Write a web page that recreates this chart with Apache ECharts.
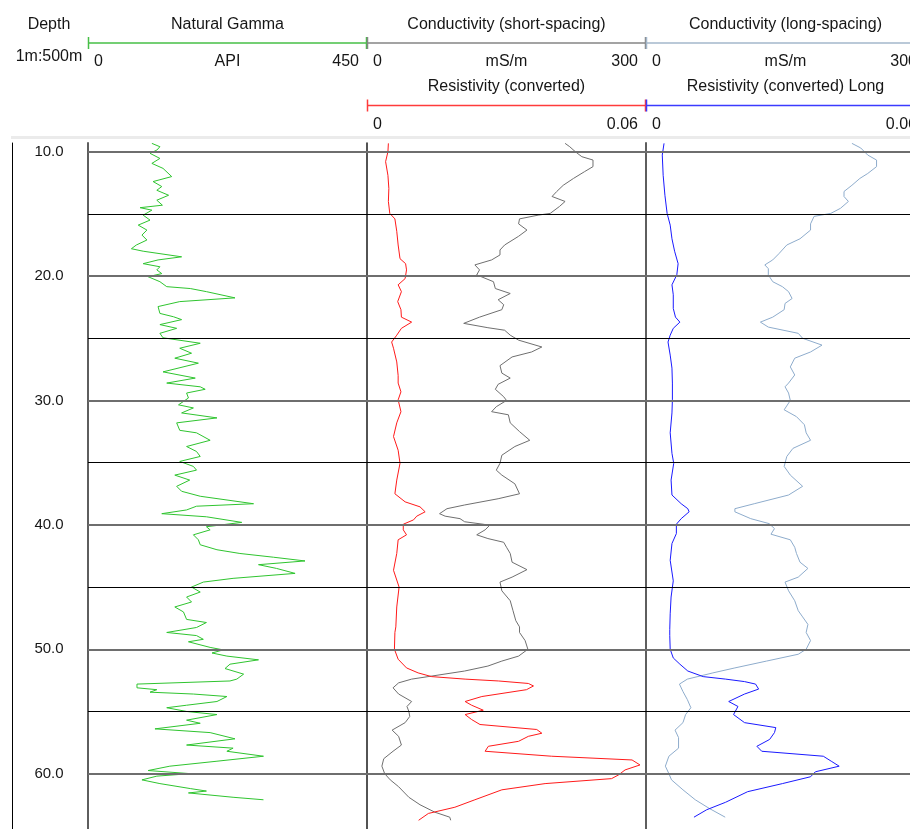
<!DOCTYPE html>
<html>
<head>
<meta charset="utf-8">
<title>Well log</title>
<script src="https://cdn.jsdelivr.net/npm/echarts@6/dist/echarts.min.js"></script>
<style>
  html, body { margin: 0; padding: 0; background: #ffffff; }
  #chart { width: 910px; height: 829px; }
</style>
</head>
<body>
<div id="chart"></div>
<script>
// ---- depth axis ----
const depthRange = [9.3, 64.45];
const depthGridlines = [10, 15, 20, 25, 30, 35, 40, 45, 50, 55, 60];
const depthLabels = [10, 20, 30, 40, 50, 60];

// ---- scales (min, max) ----
const gammaScale = [0, 450];
const condScale = [0, 300];
const resScale = [0, 0.06];

// ---- log curves: [depth (m), value] ----
const gammaLog = [
  [9.33,103],[9.6,116],[9.87,111],[10.13,100],[10.54,116],[10.94,103],[11.34,121],[12.0,135],[12.4,105],[12.8,119],
  [13.1,111],[13.5,130],[13.9,111],[14.3,120],[14.5,84],[14.7,103],[15.1,89],[15.5,100],[15.9,81],[16.3,95],
  [16.7,87],[17.1,95],[17.5,78],[17.8,70],[18.0,89],[18.45,151],[18.7,113],[19.0,89],[19.25,116],[19.5,111],
  [19.8,119],[20.05,97],[20.45,116],[20.85,127],[21.0,165],[21.25,191],[21.75,237],[22.05,148],[22.45,113],[23.0,116],
  [23.27,138],[23.5,151],[23.9,116],[24.2,143],[24.6,116],[24.96,121],[25.4,181],[25.8,148],[26.2,167],[26.6,140],
  [27.0,178],[27.7,121],[28.2,173],[28.6,127],[28.9,181],[29.1,189],[29.4,159],[29.8,162],[30.35,146],[30.6,170],
  [31.0,151],[31.4,208],[31.8,143],[32.4,148],[32.6,175],[33.2,197],[33.7,159],[34.1,175],[34.5,181],[34.9,148],
  [35.3,170],[35.6,175],[36.0,140],[36.4,164],[36.9,143],[37.3,151],[37.7,181],[38.3,267],[38.5,175],[38.8,159],
  [39.1,119],[39.35,191],[39.8,248],[40.15,191],[40.4,197],[40.8,170],[41.2,178],[41.6,181],[42.0,208],[42.3,245],
  [42.6,299],[42.9,350],[43.2,275],[43.5,304],[43.9,334],[44.3,234],[44.6,186],[45.0,167],[45.4,181],[45.8,159],
  [46.2,167],[46.6,140],[47.0,154],[47.6,159],[47.85,191],[48.25,175],[48.65,127],[48.9,175],[49.2,186],[49.4,162],
  [49.85,197],[50.05,218],[50.3,200],[50.55,224],[50.85,275],[51.2,229],[51.55,221],[52.0,251],[52.4,240],[52.55,229],
  [52.8,79],[53.1,79],[53.25,111],[53.45,100],[53.6,170],[53.8,224],[54.2,208],[54.5,159],[54.7,127],[55.0,159],
  [55.25,208],[55.7,159],[55.95,181],[56.4,108],[56.7,197],[57.2,237],[57.7,159],[57.95,234],[58.2,224],[58.6,283],
  [59.0,208],[59.4,132],[59.75,97],[60.0,165],[60.2,111],[60.5,87],[60.8,116],[61.2,165],[61.4,191],[61.55,162],
  [61.9,234],[62.1,283]
];

const condShortLog = [
  [9.33,213],[9.6,218],[10.0,224],[10.4,231],[10.67,243],[11.2,243],[11.6,234],[12.15,222],[12.7,211],[13.2,204],
  [13.6,199],[14.0,213],[14.4,207],[14.96,197],[15.1,184],[15.4,164],[15.8,163],[16.3,172],[16.8,163],[17.5,148],
  [17.9,143],[18.3,143],[18.7,134],[19.1,116],[19.5,121],[19.9,118],[20.45,136],[21.0,138],[21.4,154],[21.9,141],
  [22.3,147],[22.7,145],[23.3,121],[23.8,104],[24.15,130],[24.35,148],[24.75,154],[25.15,163],[25.7,188],[26.1,177],
  [26.5,156],[27.2,143],[27.8,145],[28.2,154],[28.7,141],[29.1,138],[29.7,147],[30.0,150],[30.5,139],[30.9,134],
  [31.15,152],[31.8,154],[32.5,164],[33.2,175],[33.7,159],[34.4,145],[35.05,143],[35.6,139],[36.0,145],[36.7,159],
  [37.5,164],[37.9,141],[38.4,105],[38.7,86],[39.1,78],[39.3,84],[39.5,100],[39.75,105],[39.95,125],[40.03,132],
  [40.4,127],[40.8,118],[41.1,130],[41.4,147],[41.8,150],[42.3,154],[43.0,156],[43.6,172],[44.2,156],[44.6,143],
  [45.3,145],[46.1,154],[46.9,157],[47.7,160],[48.2,164],[48.65,164],[49.3,170],[50.0,173],[50.55,163],[50.95,145],
  [51.35,130],[51.75,105],[52.15,70],[52.4,48],[52.7,34],[53.1,28],[53.6,34],[54.2,48],[54.6,43],[55.0,45],
  [55.4,46],[55.9,41],[56.5,27],[57.0,34],[57.7,37],[58.2,28],[58.8,18],[59.4,16],[60.0,19],[60.5,25],
  [61.05,34],[61.9,45],[62.5,57],[63.1,73],[63.5,89],[63.75,90]
];

const resShortLog = [
  [9.33,0.0046],[10.0,0.0045],[10.8,0.0040],[11.9,0.0045],[12.95,0.0047],[14.0,0.0046],[14.96,0.0049],[15.4,0.0060],
  [16.4,0.0064],[17.5,0.0067],[18.6,0.0071],[19.0,0.0083],[19.5,0.0085],[20.2,0.0082],[20.7,0.0067],[21.25,0.0074],
  [22.05,0.0066],[22.7,0.0073],[23.3,0.0074],[23.7,0.0096],[24.2,0.0074],[24.75,0.0064],[25.3,0.0053],[25.8,0.0057],
  [26.9,0.0064],[28.0,0.0067],[28.6,0.0067],[29.3,0.0073],[29.95,0.0067],[30.9,0.0073],[31.8,0.0064],[32.9,0.0057],
  [34.0,0.0067],[35.05,0.0071],[36.4,0.0064],[37.5,0.0060],[38.15,0.0082],[38.55,0.0114],[38.95,0.0125],[39.3,0.0107],
  [39.6,0.0100],[39.95,0.0078],[40.4,0.0078],[40.8,0.0085],[41.2,0.0067],[42.3,0.0064],[43.65,0.0057],[45.0,0.0069],
  [46.6,0.0064],[48.2,0.0062],[48.65,0.0060],[50.0,0.0059],[50.8,0.0067],[51.5,0.0085],[51.9,0.0110],[52.2,0.0139],
  [52.4,0.0211],[52.55,0.0283],[52.75,0.0347],[52.95,0.0358],[53.25,0.0343],[53.8,0.0247],[54.2,0.0211],[54.5,0.0225],
  [54.9,0.0250],[55.25,0.0211],[55.65,0.0225],[56.05,0.0243],[56.45,0.0365],[56.75,0.0376],[57.0,0.0347],[57.4,0.0326],
  [57.8,0.0261],[58.2,0.0254],[58.6,0.0397],[58.9,0.0570],[59.3,0.0587],[59.7,0.0555],[60.1,0.0541],[60.4,0.0526],
  [60.8,0.0383],[61.3,0.0290],[62.1,0.0232],[62.7,0.0189],[63.2,0.0132],[63.75,0.0111]
];

const condLongLog = [
  [9.33,234],[9.7,244],[10.27,252],[10.67,262],[11.2,262],[11.75,252],[12.15,243],[12.7,234],[13.2,225],[13.6,225],
  [14.0,230],[14.55,221],[14.96,210],[15.2,191],[15.8,187],[16.3,187],[17.0,175],[17.5,160],[18.2,151],[18.7,144],
  [19.1,135],[19.4,139],[19.9,139],[20.45,144],[20.85,155],[21.25,162],[21.8,166],[22.2,158],[22.7,157],[23.3,144],
  [23.7,130],[24.1,139],[24.6,173],[25.0,178],[25.55,200],[26.1,187],[26.6,169],[27.3,164],[27.95,169],[28.6,162],
  [28.9,158],[29.4,162],[30.0,164],[30.75,157],[31.3,171],[31.95,180],[32.6,182],[33.2,187],[33.85,167],[34.5,160],
  [35.3,157],[36.0,164],[36.9,178],[37.6,162],[38.3,123],[38.7,101],[38.95,101],[39.5,119],[39.9,140],[40.3,146],
  [40.75,142],[41.2,164],[41.8,169],[42.3,171],[43.0,175],[43.5,184],[44.2,173],[44.6,158],[45.3,162],[46.1,169],
  [46.9,173],[47.4,178],[48.0,184],[48.65,182],[49.3,187],[50.0,182],[50.4,173],[50.95,137],[51.5,101],[51.9,76],
  [52.4,47],[52.8,38],[53.4,42],[54.05,47],[54.7,51],[55.25,45],[55.9,42],[56.5,33],[57.1,37],[57.95,37],
  [58.6,26],[59.4,22],[60.0,26],[60.5,29],[61.3,42],[62.1,56],[62.8,72],[63.5,90]
];

const resLongLog = [
  [9.33,0.0041],[10.27,0.0037],[11.9,0.0039],[13.5,0.0043],[14.96,0.0048],[15.9,0.0055],[17.0,0.0059],[18.0,0.0065],
  [19.0,0.0073],[19.9,0.0070],[20.7,0.0059],[21.5,0.0062],[22.6,0.0062],[23.3,0.0067],[23.7,0.0077],[24.2,0.0062],
  [24.75,0.0055],[25.3,0.0050],[26.35,0.0055],[27.4,0.0059],[28.6,0.0060],[29.95,0.0060],[31.0,0.0059],[32.6,0.0055],
  [34.25,0.0059],[35.05,0.0063],[36.4,0.0057],[37.6,0.0059],[38.3,0.0080],[38.7,0.0095],[38.95,0.0098],[39.5,0.0080],
  [39.95,0.0069],[40.7,0.0069],[41.5,0.0059],[42.85,0.0055],[44.5,0.0062],[45.8,0.0057],[47.15,0.0055],[48.4,0.0054],
  [48.9,0.0054],[50.0,0.0055],[50.7,0.0062],[51.2,0.0077],[51.75,0.0095],[52.2,0.0130],[52.4,0.0181],[52.6,0.0224],
  [52.8,0.0249],[53.2,0.0256],[53.6,0.0224],[54.2,0.0188],[54.6,0.0209],[55.25,0.0199],[55.9,0.0224],[56.3,0.0295],
  [56.7,0.0292],[57.25,0.0281],[57.8,0.0252],[58.2,0.0263],[58.6,0.0403],[59.0,0.0421],[59.4,0.0439],[59.85,0.0385],
  [60.25,0.0374],[60.8,0.0310],[61.45,0.0231],[62.3,0.0181],[62.9,0.0138],[63.5,0.0109]
];

// ---- layout ----
const FONT = '"Liberation Sans", Arial, sans-serif';
const TEXT_COLOR = '#161616';
const HEAD_SIZE = 16;
const DEPTH_LABEL_SIZE = 15;
const PLOT_TOP = 143;
const DEPTH_LEFT = 12;
const TRACK_LEFT = [88, 367, 646];
const TRACK_W = 279;

const COLORS = {
  gamma: '#2fc42f', gammaHead: '#46bf46',
  condShort: '#6f6f6f', condShortHead: '#858585',
  resShort: '#ff1a1a', resShortHead: '#ff3b3b',
  condLong: '#8eaccc', condLongHead: '#a3b7cb',
  resLong: '#1a1aff', resLongHead: '#3b3bff'
};

// header rows per track
const headerTracks = [
  { left: TRACK_LEFT[0], rows: [
    { title: 'Natural Gamma', unit: 'API', scale: gammaScale, color: COLORS.gammaHead }
  ]},
  { left: TRACK_LEFT[1], rows: [
    { title: 'Conductivity (short-spacing)', unit: 'mS/m', scale: condScale, color: COLORS.condShortHead },
    { title: 'Resistivity (converted)', unit: '', scale: resScale, color: COLORS.resShortHead }
  ]},
  { left: TRACK_LEFT[2], rows: [
    { title: 'Conductivity (long-spacing)', unit: 'mS/m', scale: condScale, color: COLORS.condLongHead },
    { title: 'Resistivity (converted) Long', unit: '', scale: resScale, color: COLORS.resLongHead }
  ]}
];
const ROW_Y = [ { title: 25, line: 43, labels: 62 }, { title: 87, line: 105.5, labels: 125 } ];

function txt(text, x, y, align, size) {
  return { type: 'text', silent: true, style: { text, x, y, fill: TEXT_COLOR, fontSize: size || HEAD_SIZE, fontFamily: FONT, align: align || 'center', verticalAlign: 'middle' } };
}
function seg(x1, y1, x2, y2, stroke, lineWidth) {
  return { type: 'line', silent: true, shape: { x1, y1, x2, y2 }, style: { stroke, lineWidth } };
}

const graphics = [];
graphics.push({ type: 'rect', silent: true, shape: { x: 11, y: 136, width: 899, height: 3 }, style: { fill: '#ebebeb' } });
graphics.push(txt('Depth', 49, 25));
graphics.push(txt('1m:500m', 49, 57));
headerTracks.forEach(tr => {
  const right = tr.left + TRACK_W;
  const cx = tr.left + TRACK_W / 2;
  tr.rows.forEach((row, i) => {
    const ry = ROW_Y[i];
    graphics.push(txt(row.title, cx, ry.title));
    graphics.push(seg(tr.left, ry.line, right, ry.line, row.color, 1.5));
    graphics.push(seg(tr.left + 0.5, ry.line - 6, tr.left + 0.5, ry.line + 6, row.color, 1.5));
    graphics.push(seg(right - 0.5, ry.line - 6, right - 0.5, ry.line + 6, row.color, 1.5));
    graphics.push(txt(String(row.scale[0]), tr.left + 6, ry.labels, 'left'));
    if (row.unit) graphics.push(txt(row.unit, cx, ry.labels));
    graphics.push(txt(String(row.scale[1]), right - 8, ry.labels, 'right'));
  });
});

// ---- depth gridlines (major every 10 m, minor every 5 m) ----
const gridMarkLine = {
  silent: true,
  symbol: ['none', 'none'],
  label: { show: false },
  animation: false,
  data: depthGridlines.map(d => ({
    yAxis: d,
    lineStyle: d % 10 === 0
      ? { color: '#6e6e6e', width: 2, type: 'solid' }
      : { color: '#000000', width: 1, type: 'solid' }
  }))
};

const toXY = arr => arr.map(p => [p[1], p[0]]);

function depthAxis(gridIndex, lineColor, lineWidth) {
  return {
    type: 'value', gridIndex, inverse: true,
    min: depthRange[0], max: depthRange[1],
    axisLine: { show: true, onZero: false, lineStyle: { color: lineColor, width: lineWidth } },
    axisTick: { show: false },
    axisLabel: { show: false },
    splitLine: { show: false }
  };
}
function valueAxis(gridIndex, scale) {
  return { type: 'value', gridIndex, min: scale[0], max: scale[1], show: false, splitLine: { show: false } };
}
function curve(name, data, xi, yi, color, markLine) {
  const s = {
    name, type: 'line', xAxisIndex: xi, yAxisIndex: yi,
    data: toXY(data), showSymbol: false, symbol: 'none',
    lineStyle: { color, width: 1 }, itemStyle: { color },
    silent: true, z: 3
  };
  if (markLine) s.markLine = markLine;
  return s;
}

const depthYAxis = depthAxis(0, '#000000', 1);
depthYAxis.axisLabel = {
  show: true, inside: true, margin: 37, align: 'center',
  customValues: depthLabels,
  formatter: v => Number(v).toFixed(1),
  color: TEXT_COLOR, fontSize: DEPTH_LABEL_SIZE, fontFamily: FONT
};

const option = {
  animation: false,
  backgroundColor: '#ffffff',
  textStyle: { fontFamily: FONT },
  grid: [
    { left: DEPTH_LEFT, top: PLOT_TOP, width: TRACK_LEFT[0] - DEPTH_LEFT, bottom: 0 },
    { left: TRACK_LEFT[0], top: PLOT_TOP, width: TRACK_W, bottom: 0 },
    { left: TRACK_LEFT[1], top: PLOT_TOP, width: TRACK_W, bottom: 0 },
    { left: TRACK_LEFT[2], top: PLOT_TOP, width: TRACK_W, bottom: 0 }
  ],
  xAxis: [
    valueAxis(0, [0, 1]),
    valueAxis(1, gammaScale),
    valueAxis(2, condScale),
    valueAxis(2, resScale),
    valueAxis(3, condScale),
    valueAxis(3, resScale)
  ],
  yAxis: [
    depthYAxis,
    depthAxis(1, '#5e5e5e', 2),
    depthAxis(2, '#1a1a1a', 1.5),
    depthAxis(3, '#5e5e5e', 2)
  ],
  series: [
    curve('Natural Gamma', gammaLog, 1, 1, COLORS.gamma, gridMarkLine),
    curve('Conductivity (short-spacing)', condShortLog, 2, 2, COLORS.condShort, gridMarkLine),
    curve('Resistivity (converted)', resShortLog, 3, 2, COLORS.resShort),
    curve('Conductivity (long-spacing)', condLongLog, 4, 3, COLORS.condLong, gridMarkLine),
    curve('Resistivity (converted) Long', resLongLog, 5, 3, COLORS.resLong)
  ],
  graphic: graphics
};

const chart = echarts.init(document.getElementById('chart'), null, { renderer: 'canvas' });
chart.setOption(option);
</script>
</body>
</html>
